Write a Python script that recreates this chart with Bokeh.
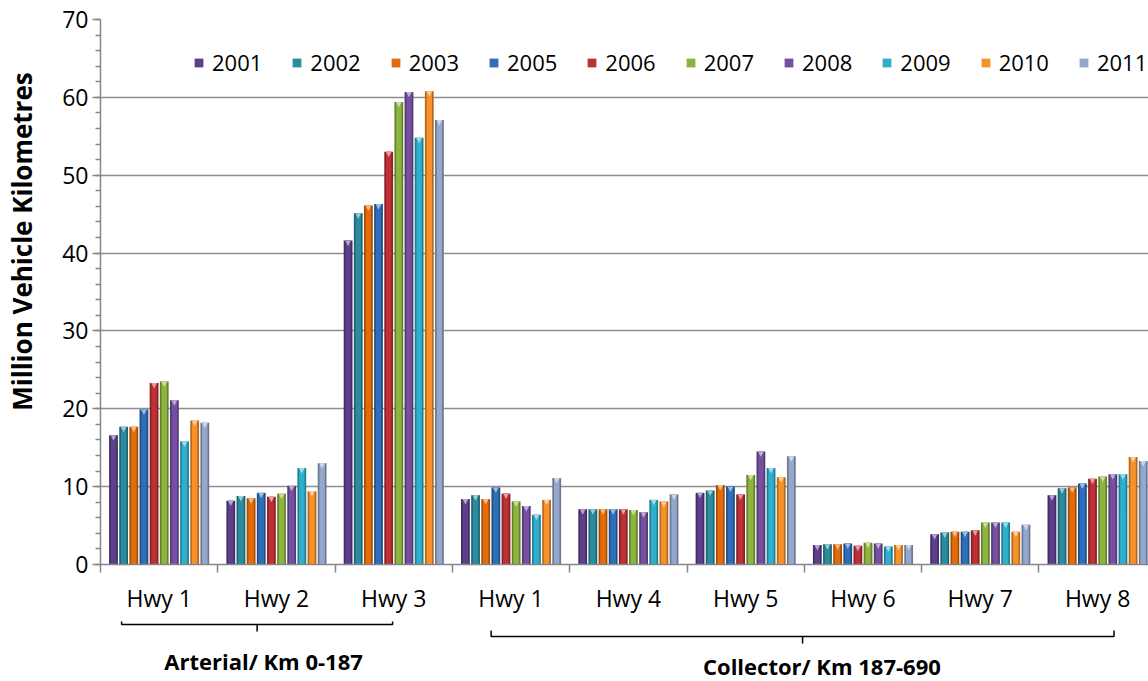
from bokeh.plotting import figure
from bokeh.models import (Range1d, FixedTicker, SingleIntervalTicker, Legend,
                          LegendItem, ColumnDataSource)
from bokeh.layouts import column, row
from bokeh.embed import file_html
from bokeh.resources import INLINE
from bokeh.core.properties import value

# ---- data -------------------------------------------------------------
highways = ["Hwy 1", "Hwy 2", "Hwy 3", "Hwy 1", "Hwy 4", "Hwy 5", "Hwy 6", "Hwy 7", "Hwy 8"]
years = ["2001", "2002", "2003", "2005", "2006", "2007", "2008", "2009", "2010", "2011"]

vkm_2001 = [16.6, 8.2, 41.6, 8.4, 7.1, 9.2, 2.5, 3.9, 8.9]
vkm_2002 = [17.7, 8.8, 45.1, 8.9, 7.1, 9.5, 2.6, 4.1, 9.8]
vkm_2003 = [17.7, 8.5, 46.1, 8.4, 7.1, 10.2, 2.6, 4.2, 9.9]
vkm_2005 = [19.9, 9.2, 46.3, 9.9, 7.1, 10.0, 2.7, 4.2, 10.4]
vkm_2006 = [23.3, 8.7, 53.0, 9.1, 7.1, 9.0, 2.4, 4.4, 11.0]
vkm_2007 = [23.5, 9.1, 59.4, 8.1, 7.0, 11.5, 2.8, 5.4, 11.3]
vkm_2008 = [21.1, 10.1, 60.7, 7.5, 6.7, 14.5, 2.7, 5.4, 11.6]
vkm_2009 = [15.8, 12.4, 54.8, 6.4, 8.3, 12.4, 2.3, 5.4, 11.6]
vkm_2010 = [18.5, 9.4, 60.8, 8.3, 8.1, 11.2, 2.5, 4.2, 13.8]
vkm_2011 = [18.2, 13.0, 57.1, 11.1, 9.0, 13.9, 2.5, 5.1, 13.3]

series = [vkm_2001, vkm_2002, vkm_2003, vkm_2005, vkm_2006,
          vkm_2007, vkm_2008, vkm_2009, vkm_2010, vkm_2011]

colors = ["#5E3F8C", "#2A8C9E", "#E36C0A", "#2F6EBA", "#BE3035",
          "#8DB43E", "#7451A0", "#2FAFCC", "#F7922A", "#95A7CB"]

# road classes spanning the highway groups
class_names = ["Arterial/ Km 0-187", "Collector/ Km 187-690"]
class_start = [-0.32, 2.83]
class_end = [1.99, 8.14]
class_label_x = [0.89, 5.65]

y_title = "Million Vehicle Kilometres"

FONT = "Open Sans"
TEXT_PX = "23px"
BOLD_PX = "22px"
TITLE_PX = "26px"
TITLE_W = 45          # width of the strip holding the y-axis title
W, H = 1148, 681
MAIN_H = 620


def shade(hex_color, f):
    h = hex_color.lstrip("#")
    r, g, b = (int(h[i:i + 2], 16) for i in (0, 2, 4))
    if f < 1:
        r, g, b = (int(c * f) for c in (r, g, b))
    else:
        t = f - 1
        r, g, b = (int(c + (255 - c) * t) for c in (r, g, b))
    return "#%02x%02x%02x" % (r, g, b)


# ---- main chart -------------------------------------------------------
p = figure(width=W - TITLE_W, height=MAIN_H, output_backend="svg",
           toolbar_location=None,
           x_range=Range1d(-0.5, 8.434), y_range=Range1d(0, 70),
           min_border_left=100 - TITLE_W, min_border_right=0, min_border_top=19,
           min_border_bottom=MAIN_H - 564)
p.outline_line_color = None
p.background_fill_color = "white"
p.border_fill_color = "white"

slot = 0.0865
bar_w = 0.075
n = len(years)
items = []
for k, (yr, vals, col) in enumerate(zip(years, series, colors)):
    xs = [g + (k - (n - 1) / 2) * slot for g in range(len(highways))]
    src = ColumnDataSource(dict(x=xs, top=vals))
    p.vbar(x="x", top="top", width=bar_w, source=src,
           fill_color=shade(col, 0.72), line_color=None)
    r = p.vbar(x="x", top="top", width=bar_w * 0.62, source=src,
               fill_color=col, line_color=None)
    # bevel highlight at the top of each bar
    tri_x = [[x - bar_w * 0.32, x + bar_w * 0.32, x] for x in xs]
    tri_y = [[v, v, v - 0.7] for v in vals]
    p.patches(tri_x, tri_y, fill_color=shade(col, 1.55), line_color=None)
    items.append(LegendItem(label=yr, renderers=[r]))

legend = Legend(items=items, orientation="horizontal", location=(93, 487),
                glyph_width=11, glyph_height=11, label_standoff=8, spacing=29,
                padding=0, margin=0, border_line_color=None,
                background_fill_alpha=0, label_text_font=FONT,
                label_text_font_size="22px", label_text_color="#000000")
p.add_layout(legend)

# y axis
yax = p.yaxis[0]
yax.ticker = SingleIntervalTicker(interval=10, num_minor_ticks=5)
yax.axis_line_color = "#868686"
yax.axis_line_width = 1.5
yax.major_tick_line_color = "#868686"
yax.major_tick_line_width = 1.5
yax.minor_tick_line_color = "#868686"
yax.minor_tick_line_width = 1.5
yax.major_tick_out = 8
yax.major_tick_in = 0
yax.minor_tick_out = 5
yax.minor_tick_in = 0
yax.major_label_standoff = 4
yax.major_label_text_font = FONT
yax.major_label_text_font_size = TEXT_PX
yax.major_label_text_color = "#000000"

p.ygrid.grid_line_color = "#8e8e8e"
p.ygrid.grid_line_width = 1.5
p.xgrid.visible = False

# x axis: labels at group centres, ticks at group boundaries
xax = p.xaxis[0]
xax.ticker = FixedTicker(ticks=list(range(len(highways))),
                         minor_ticks=[i - 0.5 for i in range(len(highways) + 1)])
xax.major_label_overrides = {i: h for i, h in enumerate(highways)}
xax.axis_line_color = "#868686"
xax.axis_line_width = 1.5
xax.major_tick_out = 0
xax.major_tick_in = 0
xax.minor_tick_out = 8
xax.minor_tick_in = 0
xax.minor_tick_line_color = "#868686"
xax.minor_tick_line_width = 1.5
xax.major_label_standoff = 9
xax.major_label_text_font = FONT
xax.major_label_text_font_size = TEXT_PX
xax.major_label_text_color = "#000000"

# ---- road class brackets ---------------------------------------------
b = figure(width=W - TITLE_W, height=H - MAIN_H, output_backend="svg",
           toolbar_location=None,
           x_range=p.x_range, y_range=Range1d(H, MAIN_H),
           x_axis_location=None, y_axis_location=None,
           min_border_left=100 - TITLE_W, min_border_right=0, min_border_top=0,
           min_border_bottom=0)
b.outline_line_color = None
b.xgrid.visible = False
b.ygrid.visible = False

tops = [621, 630]
lines = [624, 636]
bottoms = [631, 643]
text_y = [660, 665]
bx, by, cx, cy = [], [], [], []
for s, e, t, l, bt in zip(class_start, class_end, tops, lines, bottoms):
    bx.append([s, s, e, e])
    by.append([t, l, l, t])
    mid = (s + e) / 2
    cx.append([mid, mid])
    cy.append([l, bt])
b.multi_line(bx, by, line_color="#000000", line_width=1.5)
b.multi_line(cx, cy, line_color="#000000", line_width=1.5)
b.text(x=class_label_x, y=text_y,
       text=class_names, text_align="center", text_baseline="middle",
       text_font=value(FONT), text_font_style="bold", text_font_size=BOLD_PX,
       text_color="#000000")

# ---- y-axis title strip ----------------------------------------------
t = figure(width=TITLE_W, height=H, output_backend="svg", toolbar_location=None,
           x_range=Range1d(0, TITLE_W), y_range=Range1d(H, 0),
           x_axis_location=None, y_axis_location=None,
           min_border_left=0, min_border_right=0, min_border_top=0,
           min_border_bottom=0)
t.outline_line_color = None
t.xgrid.visible = False
t.ygrid.visible = False
t.text(x=[21], y=[241], text=[y_title], angle=90, angle_units="deg",
       text_align="center", text_baseline="middle",
       text_font=value(FONT), text_font_style="bold", text_font_size=TITLE_PX,
       text_color="#000000")

layout = row(t, column(p, b, spacing=0), spacing=0)
open("out.html", "w").write(file_html(layout, INLINE))
